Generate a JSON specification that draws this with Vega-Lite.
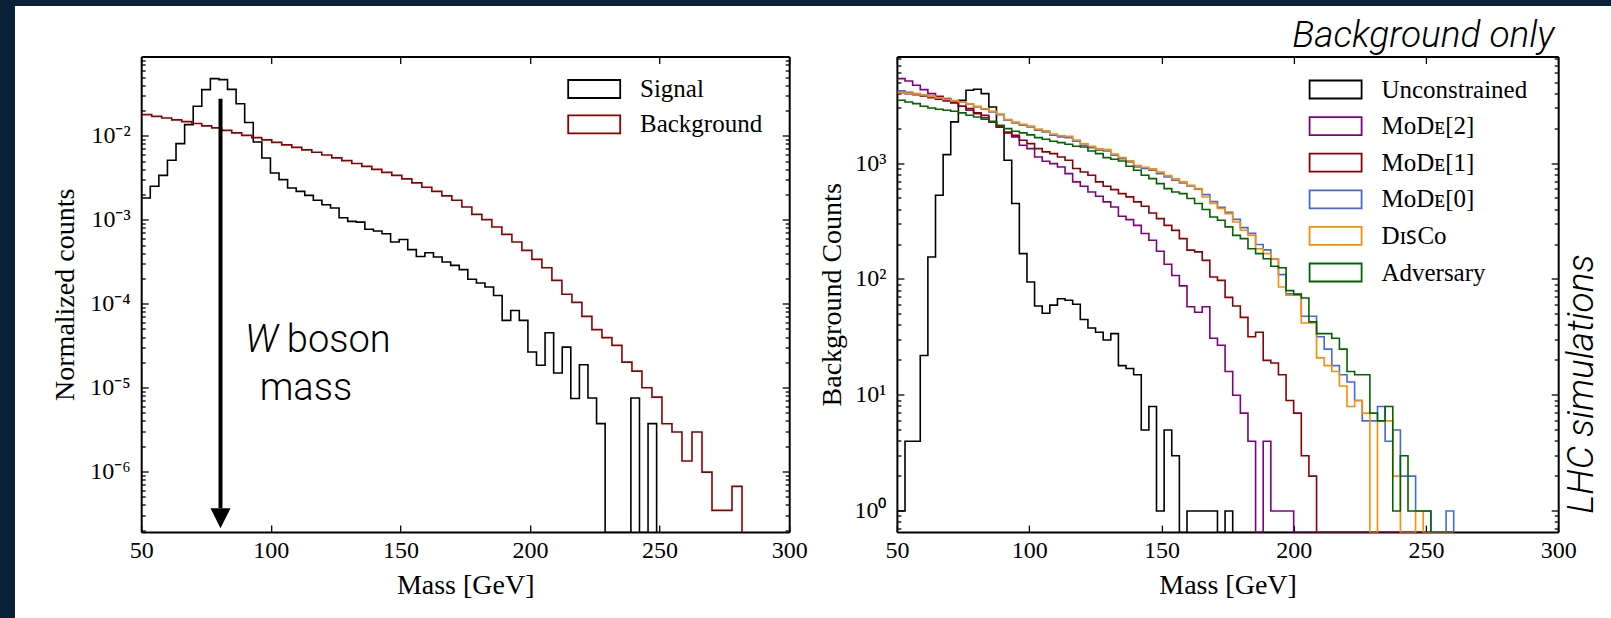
{
  "$schema": "https://vega.github.io/schema/vega-lite/v6.json",
  "padding": 0,
  "background": "white",
  "spacing": 0,
  "bounds": "flush",
  "config": {
    "font": "Liberation Serif",
    "view": {"stroke": null},
    "axis": {"domainColor": "black", "domainWidth": 2, "translate": 0, "tickColor": "black", "tickWidth": 1.3, "labelColor": "black", "titleColor": "black", "labelFont": "Liberation Serif", "titleFont": "Liberation Serif", "labelFontSize": 24, "titleFontSize": 28, "titleFontWeight": "normal", "grid": false, "zindex": 1, "labelFlush": false, "labelOverlap": false},
    "legend": {"labelFont": "Liberation Serif", "labelFontSize": 25, "labelColor": "black", "padding": 0, "labelLimit": 400}
  },
  "datasets": {
    "left": [
      {"s":"Signal","m":50,"v":0.00184},{"s":"Signal","m":53.31,"v":0.00254},{"s":"Signal","m":56.62,"v":0.00343},{"s":"Signal","m":59.93,"v":0.00518},{"s":"Signal","m":63.24,"v":0.00818},{"s":"Signal","m":66.56,"v":0.0138},{"s":"Signal","m":69.87,"v":0.0228},{"s":"Signal","m":73.18,"v":0.036},{"s":"Signal","m":76.49,"v":0.0487},{"s":"Signal","m":79.8,"v":0.0474},{"s":"Signal","m":83.11,"v":0.0363},{"s":"Signal","m":86.42,"v":0.0245},{"s":"Signal","m":89.73,"v":0.0146},{"s":"Signal","m":93.04,"v":0.00855},{"s":"Signal","m":96.35,"v":0.00552},{"s":"Signal","m":99.67,"v":0.00366},{"s":"Signal","m":102.98,"v":0.00305},{"s":"Signal","m":106.29,"v":0.00242},{"s":"Signal","m":109.6,"v":0.00221},{"s":"Signal","m":112.91,"v":0.00198},{"s":"Signal","m":116.22,"v":0.00173},{"s":"Signal","m":119.53,"v":0.00153},{"s":"Signal","m":122.84,"v":0.0014},{"s":"Signal","m":126.15,"v":0.00107},{"s":"Signal","m":129.46,"v":0.00097},{"s":"Signal","m":132.78,"v":0.00095},{"s":"Signal","m":136.09,"v":0.00078},{"s":"Signal","m":139.4,"v":0.000745},{"s":"Signal","m":142.71,"v":0.00069},{"s":"Signal","m":146.02,"v":0.00055},{"s":"Signal","m":149.33,"v":0.00059},{"s":"Signal","m":152.64,"v":0.000447},{"s":"Signal","m":155.95,"v":0.00037},{"s":"Signal","m":159.26,"v":0.00041},{"s":"Signal","m":162.57,"v":0.000365},{"s":"Signal","m":165.89,"v":0.000318},{"s":"Signal","m":169.2,"v":0.00029},{"s":"Signal","m":172.51,"v":0.000258},{"s":"Signal","m":175.82,"v":0.000198},{"s":"Signal","m":179.13,"v":0.000179},{"s":"Signal","m":182.44,"v":0.00016},{"s":"Signal","m":185.75,"v":0.000127},{"s":"Signal","m":189.06,"v":0.000064},{"s":"Signal","m":192.37,"v":0.000084},{"s":"Signal","m":195.68,"v":0.000064},{"s":"Signal","m":199.0,"v":0.0000269},{"s":"Signal","m":202.31,"v":0.0000187},{"s":"Signal","m":205.62,"v":0.0000457},{"s":"Signal","m":208.93,"v":0.0000151},{"s":"Signal","m":212.24,"v":0.0000308},{"s":"Signal","m":215.55,"v":0.0000075},{"s":"Signal","m":218.86,"v":0.000019},{"s":"Signal","m":222.17,"v":0.0000076},{"s":"Signal","m":225.48,"v":0.00000377},{"s":"Signal","m":228.79,"v":0},{"s":"Signal","m":232.11,"v":0},{"s":"Signal","m":235.42,"v":0},{"s":"Signal","m":238.73,"v":0.0000076},{"s":"Signal","m":242.04,"v":0},{"s":"Signal","m":245.35,"v":0.00000377},{"s":"Signal","m":248.66,"v":0},
      {"s":"Background","m":50,"v":0.01814},{"s":"Background","m":53.86,"v":0.01731},{"s":"Background","m":57.72,"v":0.01652},{"s":"Background","m":61.58,"v":0.01573},{"s":"Background","m":65.44,"v":0.01497},{"s":"Background","m":69.3,"v":0.01421},{"s":"Background","m":73.16,"v":0.01334},{"s":"Background","m":77.02,"v":0.01263},{"s":"Background","m":80.88,"v":0.01179},{"s":"Background","m":84.74,"v":0.01101},{"s":"Background","m":88.6,"v":0.01028},{"s":"Background","m":92.46,"v":0.00965},{"s":"Background","m":96.32,"v":0.00908},{"s":"Background","m":100.18,"v":0.00848},{"s":"Background","m":104.04,"v":0.00792},{"s":"Background","m":107.9,"v":0.00739},{"s":"Background","m":111.76,"v":0.0069},{"s":"Background","m":115.62,"v":0.00645},{"s":"Background","m":119.48,"v":0.00599},{"s":"Background","m":123.34,"v":0.00554},{"s":"Background","m":127.2,"v":0.00513},{"s":"Background","m":131.06,"v":0.00474},{"s":"Background","m":134.92,"v":0.00439},{"s":"Background","m":138.78,"v":0.00404},{"s":"Background","m":142.64,"v":0.00372},{"s":"Background","m":146.5,"v":0.00343},{"s":"Background","m":150.36,"v":0.00311},{"s":"Background","m":154.22,"v":0.00279},{"s":"Background","m":158.08,"v":0.00247},{"s":"Background","m":161.94,"v":0.00221},{"s":"Background","m":165.8,"v":0.00195},{"s":"Background","m":169.66,"v":0.00173},{"s":"Background","m":173.52,"v":0.00144},{"s":"Background","m":177.38,"v":0.001176},{"s":"Background","m":181.24,"v":0.001017},{"s":"Background","m":185.1,"v":0.00083},{"s":"Background","m":188.96,"v":0.000679},{"s":"Background","m":192.82,"v":0.00055},{"s":"Background","m":196.68,"v":0.000438},{"s":"Background","m":200.54,"v":0.000342},{"s":"Background","m":204.4,"v":0.000272},{"s":"Background","m":208.26,"v":0.000192},{"s":"Background","m":212.12,"v":0.000131},{"s":"Background","m":215.98,"v":0.000105},{"s":"Background","m":219.84,"v":0.0000716},{"s":"Background","m":223.7,"v":0.0000497},{"s":"Background","m":227.56,"v":0.0000399},{"s":"Background","m":231.42,"v":0.0000323},{"s":"Background","m":235.28,"v":0.0000204},{"s":"Background","m":239.14,"v":0.0000159},{"s":"Background","m":243.0,"v":0.0000101},{"s":"Background","m":246.86,"v":0.00000781},{"s":"Background","m":250.72,"v":0.00000376},{"s":"Background","m":254.58,"v":0.00000299},{"s":"Background","m":258.44,"v":0.00000135},{"s":"Background","m":262.3,"v":0.00000299},{"s":"Background","m":266.16,"v":0.000000997},{"s":"Background","m":270.02,"v":0.000000349},{"s":"Background","m":273.88,"v":0.000000349},{"s":"Background","m":277.74,"v":0.000000673},{"s":"Background","m":281.6,"v":0}
    ],
    "right": [
      {"m":50.0,"unc":1,"mode2":5420,"mode1":4102,"mode0":4250,"disco":4100,"adv":3524},
      {"m":52.88,"unc":4,"mode2":5176,"mode1":4018,"mode0":4135,"disco":4050,"adv":3409},
      {"m":55.76,"unc":4,"mode2":4747,"mode1":3944,"mode0":4019,"disco":4000,"adv":3297},
      {"m":58.64,"unc":22,"mode2":4353,"mode1":3840,"mode0":3915,"disco":3915,"adv":3127},
      {"m":61.52,"unc":156,"mode2":4019,"mode1":3715,"mode0":3810,"disco":3810,"adv":3025},
      {"m":64.41,"unc":533,"mode2":3810,"mode1":3595,"mode0":3688,"disco":3700,"adv":2947},
      {"m":67.29,"unc":1196,"mode2":3638,"mode1":3478,"mode0":3570,"disco":3600,"adv":2887},
      {"m":70.17,"unc":2291,"mode2":3409,"mode1":3343,"mode0":3478,"disco":3500,"adv":2831},
      {"m":73.05,"unc":3524,"mode2":3127,"mode1":3127,"mode0":3409,"disco":3420,"adv":2741},
      {"m":75.93,"unc":4300,"mode2":2886,"mode1":2985,"mode0":3253,"disco":3280,"adv":2614},
      {"m":78.81,"unc":4385,"mode2":2702,"mode1":2741,"mode0":3083,"disco":3120,"adv":2529},
      {"m":81.69,"unc":4018,"mode2":2495,"mode1":2614,"mode0":2947,"disco":2980,"adv":2415},
      {"m":84.57,"unc":3083,"mode2":2290,"mode1":2290,"mode0":2792,"disco":2830,"adv":2321},
      {"m":87.45,"unc":2073,"mode2":2073,"mode1":2073,"mode0":2646,"disco":2680,"adv":2143},
      {"m":90.33,"unc":1069,"mode2":1877,"mode1":1841,"mode0":2367,"disco":2400,"adv":2005},
      {"m":93.22,"unc":452,"mode2":1700,"mode1":1758,"mode0":2244,"disco":2280,"adv":1901},
      {"m":96.1,"unc":167,"mode2":1440,"mode1":1590,"mode0":2143,"disco":2180,"adv":1841},
      {"m":98.98,"unc":95,"mode2":1348,"mode1":1488,"mode0":2073,"disco":2110,"adv":1770},
      {"m":101.86,"unc":59,"mode2":1142,"mode1":1348,"mode0":1941,"disco":1990,"adv":1678},
      {"m":104.74,"unc":51,"mode2":1047,"mode1":1262,"mode0":1877,"disco":1920,"adv":1623},
      {"m":107.62,"unc":60,"mode2":1000,"mode1":1220,"mode0":1758,"disco":1800,"adv":1560},
      {"m":110.5,"unc":68,"mode2":936,"mode1":1142,"mode0":1700,"disco":1740,"adv":1518},
      {"m":113.38,"unc":66,"mode2":820,"mode1":1069,"mode0":1678,"disco":1720,"adv":1469},
      {"m":116.26,"unc":61,"mode2":695,"mode1":906,"mode0":1560,"disco":1600,"adv":1412},
      {"m":119.14,"unc":45,"mode2":637,"mode1":847,"mode0":1440,"disco":1480,"adv":1393},
      {"m":122.03,"unc":38,"mode2":569,"mode1":793,"mode0":1374,"disco":1410,"adv":1286},
      {"m":124.91,"unc":35,"mode2":522,"mode1":695,"mode0":1303,"disco":1340,"adv":1220},
      {"m":127.79,"unc":30,"mode2":467,"mode1":637,"mode0":1286,"disco":1320,"adv":1127},
      {"m":130.67,"unc":34,"mode2":422,"mode1":596,"mode0":1180,"disco":1210,"adv":1090},
      {"m":133.55,"unc":18,"mode2":351,"mode1":551,"mode0":1105,"disco":1130,"adv":1054},
      {"m":136.43,"unc":17,"mode2":328,"mode1":516,"mode0":1033,"disco":1060,"adv":948},
      {"m":139.31,"unc":15,"mode2":293,"mode1":467,"mode0":936,"disco":960,"adv":876},
      {"m":142.19,"unc":5,"mode2":249,"mode1":428,"mode0":906,"disco":930,"adv":793},
      {"m":145.07,"unc":8,"mode2":218,"mode1":375,"mode0":876,"disco":900,"adv":742},
      {"m":147.95,"unc":1,"mode2":175,"mode1":335,"mode0":820,"disco":845,"adv":671},
      {"m":150.84,"unc":5,"mode2":135,"mode1":293,"mode0":767,"disco":790,"adv":608},
      {"m":153.72,"unc":3,"mode2":108,"mode1":265,"mode0":718,"disco":740,"adv":569},
      {"m":156.6,"unc":0,"mode2":88,"mode1":225,"mode0":680,"disco":695,"adv":551},
      {"m":159.48,"unc":1,"mode2":58,"mode1":179,"mode0":640,"disco":650,"adv":499},
      {"m":162.36,"unc":1,"mode2":52,"mode1":173,"mode0":600,"disco":608,"adv":452},
      {"m":165.24,"unc":1,"mode2":58,"mode1":146,"mode0":540,"disco":515,"adv":401},
      {"m":168.12,"unc":1,"mode2":31,"mode1":105,"mode0":470,"disco":452,"adv":346},
      {"m":171.0,"unc":0,"mode2":27,"mode1":98,"mode0":420,"disco":409,"adv":324},
      {"m":173.88,"unc":1,"mode2":16,"mode1":70,"mode0":380,"disco":370,"adv":284},
      {"m":176.76,"unc":0,"mode2":10,"mode1":59,"mode0":330,"disco":313,"adv":240},
      {"m":179.65,"unc":0,"mode2":7,"mode1":47,"mode0":280,"disco":266,"adv":225},
      {"m":182.53,"unc":0,"mode2":4,"mode1":32,"mode0":250,"disco":240,"adv":184},
      {"m":185.41,"unc":0,"mode2":0,"mode1":35,"mode0":200,"disco":184,"adv":167},
      {"m":188.29,"unc":0,"mode2":4,"mode1":20,"mode0":180,"disco":167,"adv":151},
      {"m":191.17,"unc":0,"mode2":1,"mode1":19,"mode0":150,"disco":151,"adv":130},
      {"m":194.05,"unc":0,"mode2":1,"mode1":15,"mode0":110,"disco":86,"adv":126},
      {"m":196.93,"unc":0,"mode2":1,"mode1":9,"mode0":75,"disco":73,"adv":80},
      {"m":199.81,"unc":0,"mode2":0,"mode1":7,"mode0":75,"disco":73,"adv":74},
      {"m":202.69,"unc":0,"mode2":0,"mode1":3,"mode0":48,"disco":42,"adv":69},
      {"m":205.57,"unc":0,"mode2":0,"mode1":2,"mode0":48,"disco":42,"adv":43},
      {"m":208.46,"unc":0,"mode2":0,"mode1":0,"mode0":32,"disco":21,"adv":34},
      {"m":211.34,"unc":0,"mode2":0,"mode1":0,"mode0":25,"disco":18,"adv":34},
      {"m":214.22,"unc":0,"mode2":0,"mode1":0,"mode0":18,"disco":16,"adv":31},
      {"m":217.1,"unc":0,"mode2":0,"mode1":0,"mode0":15,"disco":12,"adv":25},
      {"m":219.98,"unc":0,"mode2":0,"mode1":0,"mode0":13,"disco":8,"adv":16},
      {"m":222.86,"unc":0,"mode2":0,"mode1":0,"mode0":9,"disco":9,"adv":15},
      {"m":225.74,"unc":0,"mode2":0,"mode1":0,"mode0":6,"disco":7,"adv":15},
      {"m":228.62,"unc":0,"mode2":0,"mode1":0,"mode0":6,"disco":0,"adv":7},
      {"m":231.5,"unc":0,"mode2":0,"mode1":0,"mode0":8,"disco":6,"adv":6},
      {"m":234.38,"unc":0,"mode2":0,"mode1":0,"mode0":4,"disco":6,"adv":8},
      {"m":237.27,"unc":0,"mode2":0,"mode1":0,"mode0":5,"disco":2,"adv":1},
      {"m":240.15,"unc":0,"mode2":0,"mode1":0,"mode0":2,"disco":0,"adv":3},
      {"m":243.03,"unc":0,"mode2":0,"mode1":0,"mode0":2,"disco":0,"adv":1},
      {"m":245.91,"unc":0,"mode2":0,"mode1":0,"mode0":1,"disco":1,"adv":1},
      {"m":248.79,"unc":0,"mode2":0,"mode1":0,"mode0":1,"disco":0,"adv":1},
      {"m":251.67,"unc":0,"mode2":0,"mode1":0,"mode0":0,"disco":0,"adv":0},
      {"m":254.55,"unc":0,"mode2":0,"mode1":0,"mode0":0,"disco":0,"adv":0},
      {"m":257.43,"unc":0,"mode2":0,"mode1":0,"mode0":1,"disco":0,"adv":0},
      {"m":260.31,"unc":0,"mode2":0,"mode1":0,"mode0":0,"disco":0,"adv":0}
    ]
  },
  "hconcat": [
    {
      "width": 15, "height": 618,
      "view": {"fill": "#0b2139", "stroke": null},
      "data": {"values": [{}]},
      "mark": {"type": "point", "opacity": 0},
      "encoding": {}
    },
    {
      "vconcat": [
        {
          "width": 1596, "height": 6,
          "view": {"fill": "#0b2139", "stroke": null},
          "data": {"values": [{}]},
          "mark": {"type": "point", "opacity": 0},
          "encoding": {}
        },
        {
          "hconcat": [
            {
              "width": 19, "height": 475.6,
              "data": {"values": [{}]},
              "mark": {"type": "point", "opacity": 0},
              "encoding": {}
            },
            {
              "width": 648, "height": 475.6,
              "layer": [
                {
                  "data": {"name": "left"},
                  "mark": {"type": "line", "interpolate": "step-after", "strokeWidth": 1.6, "clip": true},
                  "encoding": {
                    "x": {"field": "m", "type": "quantitative", "scale": {"domain": [50, 300], "nice": false, "zero": false},
                      "axis": {"orient": "bottom", "values": [50, 100, 150, 200, 250, 300], "tickSize": -7, "labelPadding": 13.6, "title": "Mass [GeV]", "titleY": 61, "titleBaseline": "alphabetic"}},
                    "y": {"field": "v", "type": "quantitative", "scale": {"type": "log", "domain": [1.895e-7, 0.0882], "clamp": true, "nice": false},
                      "axis": {"orient": "left",
                        "values": [2e-7,3e-7,4e-7,5e-7,6e-7,7e-7,8e-7,9e-7,1e-6,2e-6,3e-6,4e-6,5e-6,6e-6,7e-6,8e-6,9e-6,1e-5,2e-5,3e-5,4e-5,5e-5,6e-5,7e-5,8e-5,9e-5,1e-4,2e-4,3e-4,4e-4,5e-4,6e-4,7e-4,8e-4,9e-4,1e-3,2e-3,3e-3,4e-3,5e-3,6e-3,7e-3,8e-3,9e-3,1e-2,2e-2,3e-2,4e-2,5e-2,6e-2,7e-2,8e-2],
                        "tickSize": {"condition": {"test": "abs(log(datum.value)/LN10-round(log(datum.value)/LN10))<0.001", "value": -7}, "value": -4},
                        "labelExpr": "abs(log(datum.value)/LN10-round(log(datum.value)/LN10))<0.001 ? ['10⁻⁶','10⁻⁵','10⁻⁴','10⁻³','10⁻²'][round(log(datum.value)/LN10)+6] : ''",
                        "labelPadding": 18, "title": "Normalized counts", "titleX": -68, "titleBaseline": "alphabetic"}},
                    "color": {"field": "s", "type": "nominal", "scale": {"domain": ["Signal", "Background"], "range": ["#000000", "#8b0000"]},
                      "legend": {"orient": "none", "legendX": 440, "legendY": 19.5, "title": null, "symbolType": "M-2.889,-1H2.889V1H-2.889Z", "symbolSize": 324, "symbolStrokeWidth": 1.8, "symbolFillColor": "transparent", "labelOffset": 33.3, "rowPadding": 8.4}}
                  }
                },
                {
                  "data": {"values": [{"m": 80.4, "top": 0.028, "bot": 3.7e-7}]},
                  "mark": {"type": "rule", "strokeWidth": 4, "color": "black"},
                  "encoding": {
                    "x": {"field": "m", "type": "quantitative", "scale": {"domain": [50, 300], "nice": false, "zero": false},
                      "axis": {"orient": "top", "values": [50, 100, 150, 200, 250, 300], "tickSize": -7, "labels": false, "title": null}},
                    "y": {"field": "top", "type": "quantitative", "scale": {"type": "log", "domain": [1.895e-7, 0.0882], "clamp": true, "nice": false},
                      "axis": {"orient": "right",
                        "values": [2e-7,3e-7,4e-7,5e-7,6e-7,7e-7,8e-7,9e-7,1e-6,2e-6,3e-6,4e-6,5e-6,6e-6,7e-6,8e-6,9e-6,1e-5,2e-5,3e-5,4e-5,5e-5,6e-5,7e-5,8e-5,9e-5,1e-4,2e-4,3e-4,4e-4,5e-4,6e-4,7e-4,8e-4,9e-4,1e-3,2e-3,3e-3,4e-3,5e-3,6e-3,7e-3,8e-3,9e-3,1e-2,2e-2,3e-2,4e-2,5e-2,6e-2,7e-2,8e-2],
                        "tickSize": {"condition": {"test": "abs(log(datum.value)/LN10-round(log(datum.value)/LN10))<0.001", "value": -7}, "value": -4},
                        "labels": false, "title": null}},
                    "y2": {"field": "bot"}
                  }
                },
                {
                  "data": {"values": [{"m": 80.4, "v": 2.8e-7}]},
                  "mark": {"type": "point", "shape": "M-1,-1L1,-1L0,1Z", "filled": true, "color": "black", "size": 400, "opacity": 1},
                  "encoding": {
                    "x": {"field": "m", "type": "quantitative", "scale": {"domain": [50, 300], "nice": false, "zero": false}, "axis": null},
                    "y": {"field": "v", "type": "quantitative", "scale": {"type": "log", "domain": [1.895e-7, 0.0882], "clamp": true, "nice": false}, "axis": null}
                  }
                },
                {
                  "data": {"values": [{"m": 89.9, "v": 2.686e-5, "t": "W"}]},
                  "mark": {"type": "text", "font": "Roboto", "fontStyle": "italic", "fontWeight": 300, "fontSize": 38, "align": "left", "baseline": "alphabetic", "color": "black"},
                  "encoding": {
                    "x": {"field": "m", "type": "quantitative", "scale": {"domain": [50, 300], "nice": false, "zero": false}, "axis": null},
                    "y": {"field": "v", "type": "quantitative", "scale": {"type": "log", "domain": [1.895e-7, 0.0882], "clamp": true, "nice": false}, "axis": null},
                    "text": {"field": "t"}
                  }
                },
                {
                  "data": {"values": [{"m": 106.0, "v": 2.686e-5, "t": "boson"}, {"m": 95.5, "v": 7.135e-6, "t": "mass"}]},
                  "mark": {"type": "text", "font": "Roboto", "fontWeight": 300, "fontSize": 38, "align": "left", "baseline": "alphabetic", "color": "black"},
                  "encoding": {
                    "x": {"field": "m", "type": "quantitative", "scale": {"domain": [50, 300], "nice": false, "zero": false}, "axis": null},
                    "y": {"field": "v", "type": "quantitative", "scale": {"type": "log", "domain": [1.895e-7, 0.0882], "clamp": true, "nice": false}, "axis": null},
                    "text": {"field": "t"}
                  }
                }
              ],
              "resolve": {"axis": {"x": "independent", "y": "independent"}}
            },
            {
              "width": 661.3, "height": 475.6,
              "data": {"name": "right"},
              "transform": [{"fold": ["unc", "mode2", "mode1", "mode0", "disco", "adv"], "as": ["s", "c"]}],
              "layer": [
                {
                  "mark": {"type": "line", "interpolate": "step-after", "strokeWidth": 1.6, "clip": true},
                  "encoding": {
                    "x": {"field": "m", "type": "quantitative", "scale": {"domain": [50, 300], "nice": false, "zero": false},
                      "axis": {"orient": "bottom", "values": [50, 100, 150, 200, 250, 300], "tickSize": -7, "labelPadding": 13.6, "title": "Mass [GeV]", "titleY": 61, "titleBaseline": "alphabetic"}},
                    "y": {"field": "c", "type": "quantitative", "scale": {"type": "log", "domain": [0.651, 8329], "clamp": true, "nice": false},
                      "axis": {"orient": "left",
                        "values": [0.7,0.8,0.9,1,2,3,4,5,6,7,8,9,10,20,30,40,50,60,70,80,90,100,200,300,400,500,600,700,800,900,1000,2000,3000,4000,5000,6000,7000,8000],
                        "tickSize": {"condition": {"test": "abs(log(datum.value)/LN10-round(log(datum.value)/LN10))<0.001", "value": -7}, "value": -4},
                        "labelExpr": "abs(log(datum.value)/LN10-round(log(datum.value)/LN10))<0.001 ? ['10⁰','10¹','10²','10³'][round(log(datum.value)/LN10)] : ''",
                        "labelPadding": 18, "title": "Background Counts", "titleX": -56, "titleBaseline": "alphabetic"}},
                    "color": {"field": "s", "type": "nominal",
                      "scale": {"domain": ["unc", "mode2", "mode1", "mode0", "disco", "adv"], "range": ["#000000", "#800080", "#8b0000", "#4169e1", "#ff8c00", "#006400"]},
                      "legend": {"orient": "none", "legendX": 425.7, "legendY": 20, "title": null, "symbolType": "M-2.889,-1H2.889V1H-2.889Z", "symbolSize": 324, "symbolStrokeWidth": 1.8, "symbolFillColor": "transparent", "labelOffset": 33.3, "rowPadding": 9.6,
                        "labelExpr": "datum.label=='unc'?'Unconstrained':datum.label=='mode2'?'MᴏDᴇ[2]':datum.label=='mode1'?'MᴏDᴇ[1]':datum.label=='mode0'?'MᴏDᴇ[0]':datum.label=='disco'?'DɪꜱCᴏ':'Adversary'"}}
                  }
                },
                {
                  "mark": {"type": "line", "opacity": 0},
                  "encoding": {
                    "x": {"field": "m", "type": "quantitative", "scale": {"domain": [50, 300], "nice": false, "zero": false},
                      "axis": {"orient": "top", "values": [50, 100, 150, 200, 250, 300], "tickSize": -7, "labels": false,
                        "title": "Background only", "titleFont": "Roboto", "titleFontStyle": "italic", "titleFontWeight": 300, "titleFontSize": 37, "titleX": 657, "titleY": -10, "titleAlign": "right", "titleBaseline": "alphabetic", "titleAngle": 0}},
                    "y": {"field": "c", "type": "quantitative", "scale": {"type": "log", "domain": [0.651, 8329], "clamp": true, "nice": false},
                      "axis": {"orient": "right",
                        "values": [0.7,0.8,0.9,1,2,3,4,5,6,7,8,9,10,20,30,40,50,60,70,80,90,100,200,300,400,500,600,700,800,900,1000,2000,3000,4000,5000,6000,7000,8000],
                        "tickSize": {"condition": {"test": "abs(log(datum.value)/LN10-round(log(datum.value)/LN10))<0.001", "value": -7}, "value": -4},
                        "labels": false,
                        "title": "LHC simulations", "titleFont": "Roboto", "titleFontStyle": "italic", "titleFontWeight": 300, "titleFontSize": 37, "titleAngle": 270, "titleX": 34, "titleY": 327, "titleAlign": "center", "titleBaseline": "alphabetic"}},
                    "detail": {"field": "s"}
                  }
                }
              ],
              "resolve": {"axis": {"x": "independent", "y": "independent"}}
            }
          ],
          "spacing": 107.7,
          "bounds": "flush",
          "resolve": {"scale": {"color": "independent"}, "legend": {"color": "independent"}}
        }
      ],
      "spacing": 51,
      "bounds": "flush"
    }
  ]
}
